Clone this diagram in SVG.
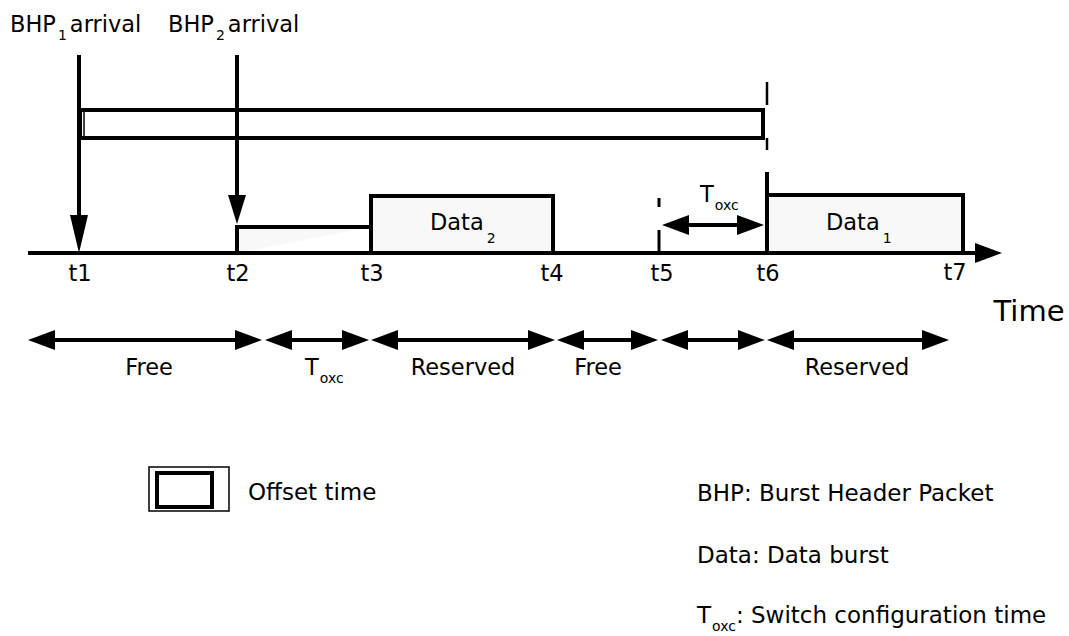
<svg xmlns="http://www.w3.org/2000/svg" width="1069" height="636" viewBox="0 0 1069 636">
<style>
  text { font-family: "DejaVu Sans", Verdana, sans-serif; fill: #000; }
  .lbl { font-size: 22.5px; }
  .leg { font-size: 23px; }
  .sub { font-size: 14px; }
  .ln { stroke: #000; stroke-width: 4; fill: none; }
  .thin { stroke: #000; stroke-width: 2.5; fill: none; }
  .box { stroke: #000; stroke-width: 4; fill: #f8f8f8; }
  .dbl { stroke: #000; stroke-width: 4; fill: none; marker-start: url(#ah); marker-end: url(#ah); }
</style>
<defs>
  <marker id="ah" markerUnits="userSpaceOnUse" markerWidth="28" markerHeight="20" refX="7" refY="10" orient="auto-start-reverse" viewBox="0 0 28 20">
    <path d="M0,0 L27,10 L0,20 Z" fill="#000"/>
  </marker>
</defs>
<rect width="1069" height="636" fill="#fff"/>

<g id="offset-time">
  <rect x="80" y="110" width="683" height="28" class="ln" fill="#fff"/>
  <line x1="84" y1="112" x2="84" y2="136" stroke="#000" stroke-width="1.5"/>
</g>

<g id="burst-t2-t3">
  <path d="M237,253 V227 H371" class="box"/>
</g>
<g id="data2">
  <path d="M371,253 V196 H553 V253" class="box"/>
  <text class="lbl" x="430" y="230">Data<tspan class="sub" dx="3" dy="13">2</tspan></text>
</g>
<g id="data1">
  <path d="M767,253 V195 H963 V253" class="box"/>
  <text class="lbl" x="826" y="230">Data<tspan class="sub" dx="3" dy="13">1</tspan></text>
</g>

<g id="connectors">
  <line x1="28" y1="253" x2="982" y2="253" class="ln" marker-end="url(#ah)"/>
  <line x1="79" y1="55" x2="79" y2="220" class="ln"/>
  <polygon points="70,215 88,215 79,253" fill="#000"/>
  <line x1="237" y1="55" x2="237" y2="200" class="ln"/>
  <polygon points="228,195 246,195 237,224" fill="#000"/>
  <line x1="767" y1="82" x2="767" y2="105" class="thin"/>
  <line x1="767" y1="138" x2="767" y2="150" class="thin"/>
  <line x1="767" y1="172" x2="767" y2="253" class="ln"/>
  <line x1="659" y1="198" x2="659" y2="207" stroke="#000" stroke-width="3"/>
  <line x1="659" y1="230" x2="659" y2="253" stroke="#000" stroke-width="3"/>
  <line x1="682" y1="225" x2="744" y2="225" class="dbl"/>
  <line x1="48" y1="340" x2="242" y2="340" class="dbl"/>
  <line x1="285" y1="340" x2="349" y2="340" class="dbl"/>
  <line x1="391" y1="340" x2="535" y2="340" class="dbl"/>
  <line x1="577" y1="340" x2="638" y2="340" class="dbl"/>
  <line x1="681" y1="340" x2="745" y2="340" class="dbl"/>
  <line x1="787" y1="340" x2="929" y2="340" class="dbl"/>
</g>

<g id="header-labels">
  <text class="lbl" x="10" y="32">BHP<tspan class="sub" dx="2" dy="8">1</tspan><tspan dx="3" dy="-8">arrival</tspan></text>
  <text class="lbl" x="168" y="32">BHP<tspan class="sub" dx="2" dy="8">2</tspan><tspan dx="3" dy="-8">arrival</tspan></text>
  <text class="lbl" x="700" y="202">T<tspan class="sub" dx="1" dy="8">oxc</tspan></text>
</g>

<g id="time-labels" class="lbl" text-anchor="middle">
  <text x="80" y="281">t1</text>
  <text x="238" y="281">t2</text>
  <text x="372" y="281">t3</text>
  <text x="552" y="281">t4</text>
  <text x="662" y="281">t5</text>
  <text x="768" y="281">t6</text>
  <text x="955" y="280">t7</text>
  <text x="1029" y="321" style="font-size:29px">Time</text>
</g>

<g id="interval-labels" class="lbl">
  <text x="149" y="375" text-anchor="middle">Free</text>
  <text x="305" y="375">T<tspan class="sub" dx="1" dy="8">oxc</tspan></text>
  <text x="463" y="375" text-anchor="middle">Reserved</text>
  <text x="598" y="375" text-anchor="middle">Free</text>
  <text x="857" y="375" text-anchor="middle">Reserved</text>
</g>

<g id="legend-offset">
  <rect x="149" y="467" width="80" height="44" fill="#fff" stroke="#000" stroke-width="1.5"/>
  <rect x="157" y="473" width="55" height="34" fill="#fff" stroke="#000" stroke-width="4"/>
  <text class="leg" x="248" y="500">Offset time</text>
</g>
<g id="legend-text" class="leg">
  <text x="697" y="501">BHP: Burst Header Packet</text>
  <text x="697" y="563">Data: Data burst</text>
  <text x="697" y="623">T<tspan class="sub" dx="1" dy="8">oxc</tspan><tspan dy="-8">: Switch configuration time</tspan></text>
</g>
</svg>
